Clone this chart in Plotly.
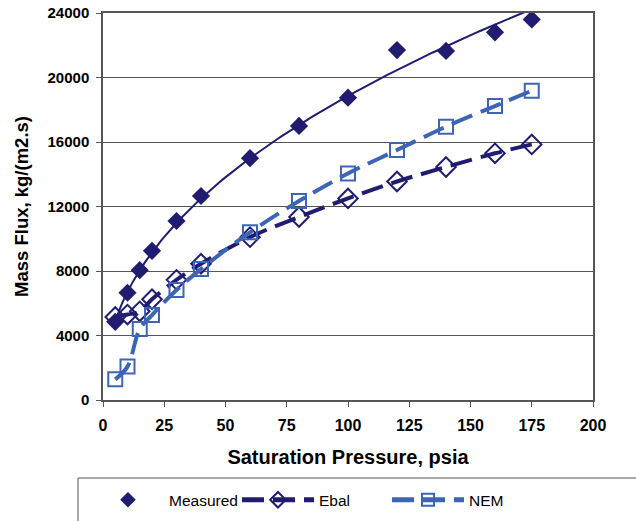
import numpy as np
import plotly.graph_objects as go

pressure = [5, 10, 15, 20, 30, 40, 60, 80, 100, 120, 140, 160, 175]
measured = [4850, 6650, 8050, 9250, 11100, 12650, 15000, 17000, 18750, 21700, 21650, 22800, 23600]
ebal = [5150, 5300, 5500, 6250, 7450, 8450, 10100, 11350, 12500, 13550, 14450, 15300, 15850]
nem = [1280, 2070, 4400, 5270, 6820, 8120, 10400, 12340, 14050, 15500, 16950, 18230, 19180]

NAVY = "#211C70"
BLUE = "#3D65B6"
FONT = "Liberation Sans, Arial, sans-serif"

# power trendline fitted to the measured data (as the spreadsheet trendline)
b, log_a = np.polyfit(np.log(pressure), np.log(measured), 1)
xt = np.linspace(min(pressure), max(pressure), 200)
yt = np.exp(log_a) * xt ** b

fig = go.Figure()
fig.add_trace(go.Scatter(x=xt, y=yt, mode="lines", line=dict(color=NAVY, width=2),
                         showlegend=False, hoverinfo="skip"))
fig.add_trace(go.Scatter(x=pressure, y=measured, mode="markers", name="Measured",
                         marker=dict(symbol="diamond", size=14, color=NAVY)))
fig.add_trace(go.Scatter(x=pressure, y=ebal, mode="lines+markers", name="Ebal",
                         line=dict(color=NAVY, width=4, dash="22px,9px", shape="spline"),
                         marker=dict(symbol="diamond-open", size=15, color=NAVY,
                                     line=dict(width=2, color=NAVY))))
fig.add_trace(go.Scatter(x=pressure, y=nem, mode="lines+markers", name="NEM",
                         line=dict(color=BLUE, width=4, dash="22px,9px", shape="spline"),
                         marker=dict(symbol="square-open", size=14, color=BLUE,
                                     line=dict(width=2, color=BLUE))))

fig.update_layout(
    width=636, height=521,
    margin=dict(l=103, r=43, t=13, b=121, autoexpand=False),
    paper_bgcolor="white", plot_bgcolor="white",
    font=dict(family=FONT, color="black"),
    legend=dict(orientation="h", x=-0.0327, y=-0.215, xanchor="left", yanchor="top",
                borderwidth=0, bgcolor="rgba(0,0,0,0)",
                font=dict(family=FONT, size=15.5, color="black"),
                itemwidth=72, entrywidth=63, itemsizing="constant"),
    shapes=[dict(type="rect", xref="paper", yref="paper",
                 x0=-0.051, x1=1.2, y0=-0.2016, y1=-0.34,
                 line=dict(color="#555555", width=1), fillcolor="rgba(0,0,0,0)",
                 layer="below")],
)
fig.update_xaxes(range=[0, 200], tickmode="linear", tick0=0, dtick=25,
                 ticklabelstandoff=5,
                 showgrid=False, showline=True, linecolor="#555555", linewidth=1.5,
                 mirror=True, ticks="outside", ticklen=5, tickcolor="#555555",
                 tickfont=dict(family=FONT, size=16, color="black", weight="bold"),
                 title=dict(text="Saturation Pressure, psia",
                            font=dict(family=FONT, size=20, color="black", weight="bold"),
                            standoff=17),
                 zeroline=False)
fig.update_yaxes(range=[0, 24000], tickmode="linear", tick0=0, dtick=4000,
                 tickformat="d", ticklabelstandoff=4,
                 showgrid=True, gridcolor="#555555", gridwidth=1.2,
                 showline=True, linecolor="#555555", linewidth=1.5, mirror=True,
                 ticks="outside", ticklen=5, tickcolor="#555555",
                 tickfont=dict(family=FONT, size=15, color="black", weight="bold"),
                 title=dict(text="Mass Flux, kg/(m2.s)",
                            font=dict(family=FONT, size=18.5, color="black", weight="bold"),
                            standoff=14),
                 zeroline=False)

fig.write_html("out.html")
